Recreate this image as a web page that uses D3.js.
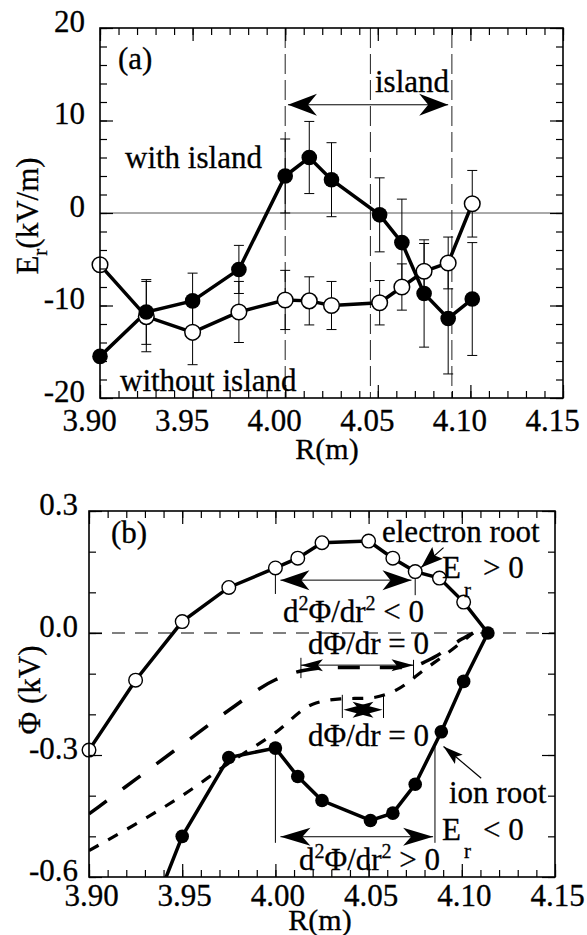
<!DOCTYPE html>
<html>
<head>
<meta charset="utf-8">
<script src="https://cdn.jsdelivr.net/npm/d3@7"></script>
<style>
  body { margin: 0; background: #fff; }
  text { font-family: "Liberation Serif", "Times New Roman", serif; fill: #000; stroke: #000; stroke-width: 0.3px; }
</style>
</head>
<body>
<div id="chart"></div>
<script>
// ---- panel (a): radial electric field ----
const rA = [3.900, 3.925, 3.950, 3.975, 4.000, 4.013, 4.025, 4.051, 4.063, 4.075, 4.088, 4.101]
const erWith = [-15.5, -10.7, -9.5, -6.1, 4.0, 6.0, 3.6, -0.2, -3.2, -8.7, -11.4, -9.3]
const errWith = [0, 3.5, 3.0, 2.6, 4.0, 3.9, 4.0, 4.0, 4.7, 5.8, 6.0, 6.1]
const erWithout = [-5.6, -11.2, -12.9, -10.7, -9.4, -9.5, -10.0, -9.7, -8.0, -6.3, -5.4, 1.0]
const errWithout = [0, 3.8, 3.5, 3.3, 3.2, 2.6, 2.6, 2.4, 2.5, 3.0, 2.8, 3.6]
const islandLines = [4.000, 4.046, 4.090]

// ---- panel (b): potential ----
const rOpen = [3.900, 3.925, 3.950, 3.975, 4.000, 4.012, 4.025, 4.050, 4.063, 4.075, 4.088, 4.101]
const phiOpen = [-0.288, -0.116, 0.028, 0.112, 0.160, 0.184, 0.222, 0.226, 0.184, 0.151, 0.135, 0.076]
const rFilled = [3.925, 3.950, 3.975, 4.000, 4.012, 4.025, 4.051, 4.063, 4.075, 4.089, 4.101, 4.114]
const phiFilled = [-0.79, -0.50, -0.306, -0.283, -0.353, -0.412, -0.461, -0.443, -0.372, -0.243, -0.119, 0.0]
const rLong = [3.900, 3.925, 3.950, 3.975, 4.000, 4.015, 4.030, 4.050, 4.070, 4.085, 4.100, 4.106]
const phiLong = [-0.445, -0.36, -0.275, -0.19, -0.115, -0.092, -0.085, -0.085, -0.085, -0.06, -0.015, 0.0]
const rShort = [3.900, 3.925, 3.950, 3.975, 4.000, 4.020, 4.035, 4.050, 4.065, 4.080, 4.095, 4.106]
const phiShort = [-0.535, -0.47, -0.40, -0.32, -0.245, -0.175, -0.162, -0.16, -0.14, -0.09, -0.04, 0.0]

// tick labels
const xTicks = [3.90, 3.95, 4.00, 4.05, 4.10, 4.15]
const yTicksA = [-20, -10, 0, 10, 20]
const yTicksB = [-0.6, -0.3, 0.0, 0.3]

const FS = 31

const svg = d3.select("#chart")
    .append("svg")
    .attr("width", 587)
    .attr("height", 935)

// frame with inward ticks on all four sides
function frame(x, y, o) {
    const [x0, x1] = x.range(), [y0, y1] = y.range()
    const g = svg.append("g")
    const add = (axis, tr, vals, size, fmt, pad) => {
        const a = g.append("g").attr("transform", tr)
            .call(axis.tickValues(vals).tickSize(size).tickSizeOuter(0).tickFormat(fmt || "").tickPadding(pad || 3))
        a.select(".domain").remove()
        a.selectAll("line").attr("stroke", "#000").attr("stroke-width", 1.2)
        return a
    }
    add(d3.axisBottom(x), `translate(0,${y0})`, o.xMinor, -7)
    add(d3.axisTop(x), `translate(0,${y1})`, o.xMinor, -7)
    add(d3.axisTop(x), `translate(0,${y1})`, xTicks, -13)
    add(d3.axisLeft(y), `translate(${x0},0)`, o.yMinor, -7)
    add(d3.axisRight(y), `translate(${x1},0)`, o.yMinor, -7)
    add(d3.axisRight(y), `translate(${x1},0)`, o.yMajor, -13)
    const bx = add(d3.axisBottom(x), `translate(0,${y0})`, xTicks, -13, d => d.toFixed(2))
    bx.selectAll("text").attr("font-size", FS).attr("font-family", null)
        .attr("y", o.xLabelY).attr("dy", 0).attr("dx", o.xDx)
    const ly = add(d3.axisLeft(y), `translate(${x0},0)`, o.yMajor, -13, o.yFmt, o.yPad)
    ly.selectAll("text").attr("font-size", FS).attr("font-family", null)
        .attr("dy", 0).attr("y", o.yDy)
    g.append("rect")
        .attr("x", x0).attr("y", y1)
        .attr("width", x1 - x0).attr("height", y0 - y1)
        .attr("fill", "none").attr("stroke", "#000").attr("stroke-width", 1.6)
}

function arrowHead(g, tx, ty, dx, dy, L, W, n) {
    const len = Math.hypot(dx, dy), ux = dx / len, uy = dy / len
    const px = -uy, py = ux
    const bx = tx - L * ux, by = ty - L * uy
    const nx = tx - (L - n) * ux, ny = ty - (L - n) * uy
    g.append("path")
        .attr("d", `M${tx},${ty}L${bx + W * px},${by + W * py}L${nx},${ny}L${bx - W * px},${by - W * py}Z`)
        .attr("fill", "#000")
}

function doubleArrow(g, xa, xb, yy, L, W, n) {
    g.append("line").attr("x1", xa).attr("x2", xb).attr("y1", yy).attr("y2", yy)
        .attr("stroke", "#000").attr("stroke-width", 1)
    arrowHead(g, xa, yy, -1, 0, L, W, n)
    arrowHead(g, xb, yy, 1, 0, L, W, n)
}

function label(x, y, s, size, anchor) {
    return svg.append("text").attr("x", x).attr("y", y)
        .attr("font-size", size || FS).attr("text-anchor", anchor || "start").text(s)
}

// ================= panel (a) =================
const xA = d3.scaleLinear().domain([3.90, 4.15]).range([100, 563])
const yA = d3.scaleLinear().domain([-20, 20]).range([398, 28])

const gA = svg.append("g")

gA.append("line")
    .attr("x1", xA(3.90)).attr("x2", xA(4.15))
    .attr("y1", yA(0)).attr("y2", yA(0))
    .attr("stroke", "#555").attr("stroke-width", 1)

gA.selectAll(".isl").data(islandLines).join("line")
    .attr("x1", d => xA(d)).attr("x2", d => xA(d))
    .attr("y1", yA(20)).attr("y2", yA(-20))
    .attr("stroke", "#222").attr("stroke-width", 1)
    .attr("stroke-dasharray", "20,6")

doubleArrow(gA, xA(4.0015), xA(4.088), yA(11.7), 29, 11, 9)

// error bars
const bars = (vals, errs) => rA.map((r, i) => ({ r, v: vals[i], e: errs[i] })).filter(d => d.e > 0)
const eb = bars(erWith, errWith).concat(bars(erWithout, errWithout))
const ebG = gA.selectAll(".eb").data(eb).join("g").attr("stroke", "#000").attr("stroke-width", 1)
ebG.append("line")
    .attr("x1", d => xA(d.r)).attr("x2", d => xA(d.r))
    .attr("y1", d => yA(d.v - d.e)).attr("y2", d => yA(d.v + d.e))
ebG.append("line")
    .attr("x1", d => xA(d.r) - 5).attr("x2", d => xA(d.r) + 5)
    .attr("y1", d => yA(d.v - d.e)).attr("y2", d => yA(d.v - d.e))
ebG.append("line")
    .attr("x1", d => xA(d.r) - 5).attr("x2", d => xA(d.r) + 5)
    .attr("y1", d => yA(d.v + d.e)).attr("y2", d => yA(d.v + d.e))

const lineA = d3.line().x(d => xA(d[0])).y(d => yA(d[1]))
const withPts = rA.map((r, i) => [r, erWith[i]])
const withoutPts = rA.map((r, i) => [r, erWithout[i]])

gA.append("path").datum(withoutPts)
    .attr("fill", "none").attr("stroke", "#000").attr("stroke-width", 3.5)
    .attr("d", lineA)
gA.append("path").datum(withPts)
    .attr("fill", "none").attr("stroke", "#000").attr("stroke-width", 3.5)
    .attr("d", lineA)

gA.selectAll(".op").data(withoutPts).join("circle")
    .attr("cx", d => xA(d[0])).attr("cy", d => yA(d[1])).attr("r", 7.8)
    .attr("fill", "#fff").attr("stroke", "#000").attr("stroke-width", 1.5)
gA.selectAll(".fp").data(withPts).join("circle")
    .attr("cx", d => xA(d[0])).attr("cy", d => yA(d[1])).attr("r", 7.8)
    .attr("fill", "#000")

frame(xA, yA, {
    xMinor: d3.range(3.90, 4.151, 0.01), yMinor: d3.range(-20, 21, 2), yMajor: yTicksA,
    yFmt: d => String(d), yPad: 15, yDy: 3, xLabelY: 33, xDx: -11
})

label(118, 69, "(a)")
label(375, 92, "island")
label(125, 168, "with island")
label(120, 391, "without island")
label(327, 459, "R(m)", 30, "middle")
const yLabA = svg.append("text").attr("transform", "translate(38,216) rotate(-90)")
    .attr("font-size", FS).attr("text-anchor", "middle")
yLabA.append("tspan").text("E")
yLabA.append("tspan").attr("dy", 9).attr("font-size", 21).text("r")
yLabA.append("tspan").attr("dy", -9).text("(kV/m)")

// ================= panel (b) =================
const xB = d3.scaleLinear().domain([3.90, 4.15]).range([89, 555])
const yB = d3.scaleLinear().domain([-0.6, 0.3]).range([877, 511])

svg.append("clipPath").attr("id", "clipB").append("rect")
    .attr("x", 89).attr("y", 511).attr("width", 555 - 89).attr("height", 877 - 511)

const gB = svg.append("g")
const gBc = gB.append("g").attr("clip-path", "url(#clipB)")

gBc.append("line")
    .attr("x1", xB(3.90)).attr("x2", xB(4.15))
    .attr("y1", yB(0)).attr("y2", yB(0))
    .attr("stroke", "#000").attr("stroke-width", 1)
    .attr("stroke-dasharray", "13,10")

const lineB = d3.line().x(d => xB(d[0])).y(d => yB(d[1]))
const openPts = rOpen.map((r, i) => [r, phiOpen[i]])
const filledPts = rFilled.map((r, i) => [r, phiFilled[i]])
const longPts = rLong.map((r, i) => [r, phiLong[i]])
const shortPts = rShort.map((r, i) => [r, phiShort[i]])

gBc.append("path").datum(longPts)
    .attr("fill", "none").attr("stroke", "#000").attr("stroke-width", 3.5)
    .attr("stroke-dasharray", "22,20").attr("d", lineB.curve(d3.curveMonotoneX))
gBc.append("path").datum(shortPts)
    .attr("fill", "none").attr("stroke", "#000").attr("stroke-width", 3.2)
    .attr("stroke-dasharray", "11,11").attr("d", lineB)
lineB.curve(d3.curveLinear)

// vertical guides and double arrows
const vline = (r, p0, p1) => gB.append("line")
    .attr("x1", xB(r)).attr("x2", xB(r)).attr("y1", yB(p0)).attr("y2", yB(p1))
    .attr("stroke", "#000").attr("stroke-width", 1)
vline(4.000, 0.165, 0.096)
vline(4.075, 0.155, 0.093)
doubleArrow(gB, xB(4.0027), xB(4.073), yB(0.130), 29, 10, 8)
vline(4.0137, -0.061, -0.111)
vline(4.0741, -0.066, -0.108)
doubleArrow(gB, xB(4.0137), xB(4.0741), yB(-0.079), 22, 6, 5)
vline(4.0359, -0.152, -0.209)
vline(4.058, -0.152, -0.209)
arrowHead(gB, xB(4.0365), yB(-0.189), -1, 0, 30, 8, 7)
arrowHead(gB, xB(4.0575), yB(-0.189), 1, 0, 30, 8, 7)
vline(4.000, -0.283, -0.516)
vline(4.0856, -0.279, -0.516)
doubleArrow(gB, xB(4.0027), xB(4.0846), yB(-0.501), 30, 9, 8)

// root pointers
const pointer = (r0, p0, r1, p1, L, W) => {
    gB.append("line").attr("x1", xB(r0)).attr("y1", yB(p0)).attr("x2", xB(r1)).attr("y2", yB(p1))
        .attr("stroke", "#000").attr("stroke-width", 1.2)
    arrowHead(gB, xB(r1), yB(p1), xB(r1) - xB(r0), yB(p1) - yB(p0), L, W, 4)
}
pointer(4.0902, 0.210, 4.0782, 0.161, 22, 8)
pointer(4.1104, -0.357, 4.0902, -0.279, 20, 6)

gBc.append("path").datum(openPts.concat([[rFilled[rFilled.length - 1], phiFilled[phiFilled.length - 1]]]))
    .attr("fill", "none").attr("stroke", "#000").attr("stroke-width", 3.5).attr("d", lineB)
gBc.append("path").datum(filledPts)
    .attr("fill", "none").attr("stroke", "#000").attr("stroke-width", 3.5).attr("d", lineB)

// markers are not clipped, only the ones inside the plotted range are drawn
const inB = d => d[1] >= yB.domain()[0] && d[1] <= yB.domain()[1]
gB.selectAll(".op").data(openPts.filter(inB)).join("circle")
    .attr("cx", d => xB(d[0])).attr("cy", d => yB(d[1])).attr("r", 6.8)
    .attr("fill", "#fff").attr("stroke", "#000").attr("stroke-width", 1.4)
gB.selectAll(".fp").data(filledPts.filter(inB)).join("circle")
    .attr("cx", d => xB(d[0])).attr("cy", d => yB(d[1])).attr("r", 6.8)
    .attr("fill", "#000")

frame(xB, yB, {
    xMinor: d3.range(3.90, 4.151, 0.01), yMinor: d3.range(-0.6, 0.31, 0.1), yMajor: yTicksB,
    yFmt: d => d.toFixed(1), yPad: 11, yDy: 3, xLabelY: 29, xDx: 2
})

label(111, 543, "(b)")
label(382, 542, "electron root")
label(442, 578, "E")
label(464, 597, "r", 21)
label(483, 578, "> 0")
const d2a = label(283, 622, "")
d2a.append("tspan").text("d")
d2a.append("tspan").attr("dy", -12).attr("font-size", 20).text("2")
d2a.append("tspan").attr("dy", 12).text("Φ/dr")
d2a.append("tspan").attr("dy", -12).attr("font-size", 20).text("2")
d2a.append("tspan").attr("dy", 12).text(" < 0")
label(308, 654, "dΦ/dr = 0")
label(308, 746, "dΦ/dr = 0")
label(449, 803, "ion root")
label(442, 840, "E")
label(464, 858, "r", 21)
label(483, 840, "< 0")
const d2b = label(299, 870, "")
d2b.append("tspan").text("d")
d2b.append("tspan").attr("dy", -12).attr("font-size", 20).text("2")
d2b.append("tspan").attr("dy", 12).text("Φ/dr")
d2b.append("tspan").attr("dy", -12).attr("font-size", 20).text("2")
d2b.append("tspan").attr("dy", 12).text(" > 0")
label(320, 930, "R(m)", 30, "middle")
svg.append("text").attr("transform", "translate(40,690) rotate(-90)")
    .attr("font-size", FS).attr("text-anchor", "middle").text("Φ (kV)")
</script>
</body>
</html>
